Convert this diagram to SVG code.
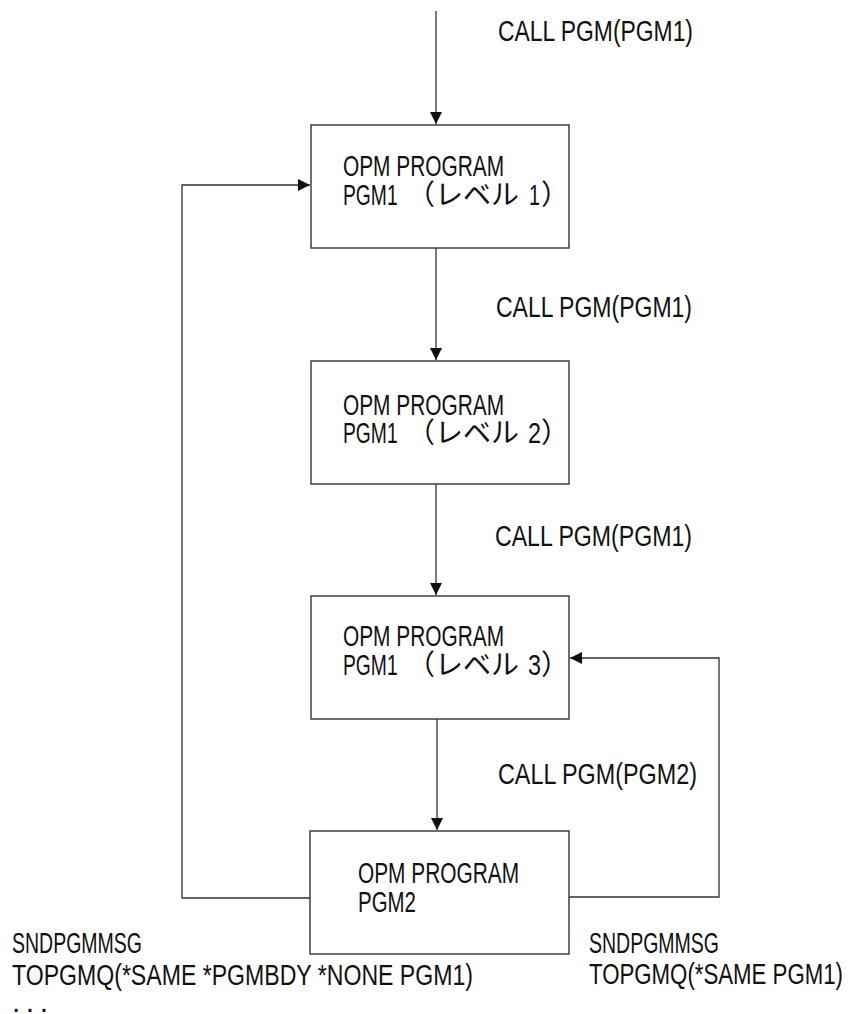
<svg xmlns="http://www.w3.org/2000/svg" width="849" height="1014" viewBox="0 0 849 1014">
<style>
.t{font-family:"Liberation Sans","Noto Sans CJK JP",sans-serif;font-size:30px;fill:#111;}
.j{font-family:"Noto Sans CJK JP","Liberation Sans",sans-serif;font-size:28px;}
.box{fill:#fff;stroke:#333;stroke-width:1.4;}
.ln{fill:none;stroke:#333;stroke-width:1.3;}
</style>
<defs>
<marker id="ah" markerWidth="12" markerHeight="12" refX="12" refY="6" orient="auto" markerUnits="userSpaceOnUse">
<path d="M0,0 L12,6 L0,12 Z" fill="#111"/>
</marker>
</defs>
<rect width="849" height="1014" fill="#fff"/>
<g id="connectors">
<path class="ln" d="M436,11 V124" marker-end="url(#ah)"/>
<path class="ln" d="M436,248 V360" marker-end="url(#ah)"/>
<path class="ln" d="M436,484 V595" marker-end="url(#ah)"/>
<path class="ln" d="M437,719 V830" marker-end="url(#ah)"/>
<path class="ln" d="M310,898 H182 V185 H310" marker-end="url(#ah)"/>
<path class="ln" d="M569,897 H719 V658 H570" marker-end="url(#ah)"/>
</g>
<g id="labels">
<text class="t" x="498" y="41" textLength="195" lengthAdjust="spacingAndGlyphs">CALL PGM(PGM1)</text>
<text class="t" x="496" y="317" textLength="196" lengthAdjust="spacingAndGlyphs">CALL PGM(PGM1)</text>
<text class="t" x="495" y="546" textLength="197" lengthAdjust="spacingAndGlyphs">CALL PGM(PGM1)</text>
<text class="t" x="498" y="784" textLength="199" lengthAdjust="spacingAndGlyphs">CALL PGM(PGM2)</text>
<text class="t" x="12" y="953" textLength="130" lengthAdjust="spacingAndGlyphs">SNDPGMMSG</text>
<text class="t" x="12" y="985" textLength="461" lengthAdjust="spacingAndGlyphs">TOPGMQ(*SAME *PGMBDY *NONE PGM1)</text>
<text class="t" x="12" y="1012" textLength="36" lengthAdjust="spacing">...</text>
<text class="t" x="589" y="953" textLength="130" lengthAdjust="spacingAndGlyphs">SNDPGMMSG</text>
<text class="t" x="589" y="984" textLength="254" lengthAdjust="spacingAndGlyphs">TOPGMQ(*SAME PGM1)</text>
</g>
<g id="node-pgm1-l1">
<rect class="box" x="311" y="125" width="258" height="123"/>
<text class="t" x="343" y="176" textLength="161" lengthAdjust="spacingAndGlyphs">OPM PROGRAM</text>
<text class="t" y="205"><tspan x="343" textLength="60" lengthAdjust="spacingAndGlyphs">PGM1 </tspan><tspan class="j" x="407">（レベル </tspan><tspan x="529" textLength="11" lengthAdjust="spacingAndGlyphs">1</tspan><tspan class="j" x="541">）</tspan></text>
</g>
<g id="node-pgm1-l2">
<rect class="box" x="311" y="361" width="258" height="123"/>
<text class="t" x="343" y="415" textLength="161" lengthAdjust="spacingAndGlyphs">OPM PROGRAM</text>
<text class="t" y="443"><tspan x="343" textLength="60" lengthAdjust="spacingAndGlyphs">PGM1 </tspan><tspan class="j" x="407">（レベル </tspan><tspan x="528" textLength="13" lengthAdjust="spacingAndGlyphs">2</tspan><tspan class="j" x="541">）</tspan></text>
</g>
<g id="node-pgm1-l3">
<rect class="box" x="311" y="596" width="258" height="123"/>
<text class="t" x="343" y="646" textLength="161" lengthAdjust="spacingAndGlyphs">OPM PROGRAM</text>
<text class="t" y="675"><tspan x="343" textLength="60" lengthAdjust="spacingAndGlyphs">PGM1 </tspan><tspan class="j" x="407">（レベル </tspan><tspan x="528" textLength="13" lengthAdjust="spacingAndGlyphs">3</tspan><tspan class="j" x="541">）</tspan></text>
</g>
<g id="node-pgm2">
<rect class="box" x="310" y="831" width="259" height="123"/>
<text class="t" x="358" y="883" textLength="161" lengthAdjust="spacingAndGlyphs">OPM PROGRAM</text>
<text class="t" x="358" y="912" textLength="58" lengthAdjust="spacingAndGlyphs">PGM2</text>
</g>
</svg>
